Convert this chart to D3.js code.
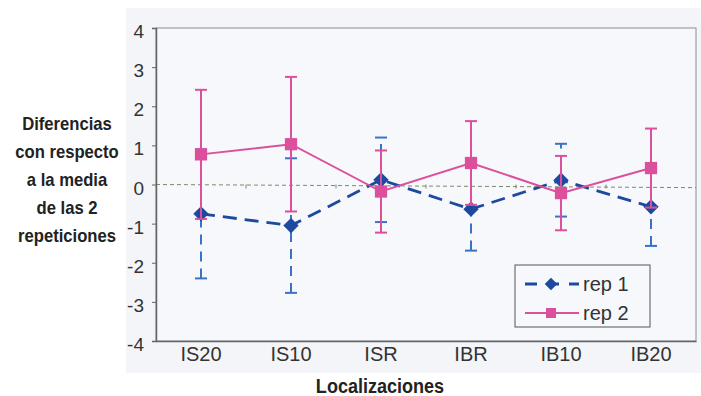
<!DOCTYPE html>
<html><head><meta charset="utf-8">
<script src="https://cdn.jsdelivr.net/npm/d3@7/dist/d3.min.js"></script>
<style>body{margin:0;background:#fff}svg{display:block}</style>
</head><body>
<svg id="c" width="701" height="396"></svg>
<script>
const categories = ["IS20","IS10","ISR","IBR","IB10","IB20"];
const rep1 = [-0.75,-1.05,0.12,-0.63,0.11,-0.57];
const rep1Err = [1.65,1.72,1.08,1.06,0.93,1.0];
const rep2 = [0.77,1.03,-0.18,0.55,-0.22,0.42];
const rep2Err = [1.65,1.72,1.05,1.07,0.95,1.01];
const yTicks = [-4,-3,-2,-1,0,1,2,3,4];
const seriesNames = ["rep 1","rep 2"];
const yTitle = ["Diferencias","con respecto","a la media","de las 2","repeticiones"];
const xTitle = "Localizaciones";

const svg = d3.select("#c");
const m = {l:156, t:28, r:696, b:341};
const x = d3.scaleBand().domain(categories).range([m.l, m.r]).padding(0);
const y = d3.scaleLinear().domain([-4,4]).range([m.b, m.t]);
const cx = c => x(c) + x.bandwidth()/2;

const blue = "#1d4a9e", blueErr = "#3a72c8", pink = "#dc4f9c", txt = "#333";
const font = "'Liberation Sans', Arial, sans-serif";

// chart area background
svg.append("rect").attr("x",126).attr("y",8).attr("width",575).attr("height",365).attr("fill","#f3f5f8");
svg.append("rect").attr("x",m.l).attr("y",m.t).attr("width",m.r-m.l).attr("height",m.b-m.t)
  .attr("fill","#f6f8fb").attr("stroke","#8a8f94").attr("stroke-width",1);

// zero reference line
svg.append("line").attr("x1",m.l).attr("x2",m.r).attr("y1",y(0)).attr("y2",y(-0.08))
  .attr("stroke","#7c8a6e").attr("stroke-width",1).attr("stroke-dasharray","4,3");
categories.slice(1).forEach(c=>{
  const xx = x(c);
  svg.append("line").attr("x1",xx).attr("x2",xx).attr("y1",y(0)).attr("y2",y(0)+4).attr("stroke","#7c8a6e").attr("stroke-width",1);
});

// axes
const ya = d3.axisLeft(y).tickValues(yTicks).tickSize(4).tickFormat(d => String(d));
const gy = svg.append("g").attr("transform",`translate(${m.l},0)`).call(ya);
gy.select(".domain").attr("stroke","#666").attr("stroke-width",1.5);
gy.selectAll(".tick line").attr("stroke","#666");
gy.selectAll(".tick text").attr("font-family",font).attr("font-size",19).attr("fill",txt).attr("x",-12).attr("dy","0.5em");

const xa = d3.axisBottom(x).tickSize(0).tickSizeOuter(0);
const gx = svg.append("g").attr("transform",`translate(0,${m.b})`).call(xa);
gx.select(".domain").attr("stroke","#666").attr("stroke-width",1.5);
gx.selectAll(".tick text").attr("font-family",font).attr("font-size",20).attr("fill",txt).attr("dy","0.85em");

function drawSeries(vals, errs, color, errColor, dash, errDash, marker){
  const g = svg.append("g");
  vals.forEach((v,i)=>{
    const xx = cx(categories[i]);
    g.append("line").attr("x1",xx).attr("x2",xx).attr("y1",y(v-errs[i])).attr("y2",y(v+errs[i]))
      .attr("stroke",errColor).attr("stroke-width",2).attr("stroke-dasharray",errDash);
    [v-errs[i], v+errs[i]].forEach(e=>{
      g.append("line").attr("x1",xx-6).attr("x2",xx+6).attr("y1",y(e)).attr("y2",y(e))
        .attr("stroke",errColor).attr("stroke-width",2);
    });
  });
  const line = d3.line().x((d,i)=>cx(categories[i])).y(d=>y(d));
  g.append("path").datum(vals).attr("d",line).attr("fill","none").attr("stroke",color)
    .attr("stroke-width",dash?2.8:2).attr("stroke-dasharray",dash);
  vals.forEach((v,i)=>{
    g.append("path").attr("transform",`translate(${cx(categories[i])},${y(v)})`)
      .attr("d",marker).attr("fill",color);
  });
}
const diamond = d3.symbol().type(d3.symbolDiamond2).size(150)();
const square = d3.symbol().type(d3.symbolSquare).size(150)();
drawSeries(rep1, rep1Err, blue, blueErr, "14,8", "10,7", diamond);
drawSeries(rep2, rep2Err, pink, pink, null, null, square);

// legend
const lg = svg.append("g");
lg.append("rect").attr("x",515).attr("y",265).attr("width",135).attr("height",62)
  .attr("fill","#f6f8fb").attr("stroke","#555").attr("stroke-width",1);
[[blue,"12,10",diamond],[pink,null,square]].forEach((s,i)=>{
  const yy = 284 + i*29;
  lg.append("line").attr("x1",525).attr("x2",579).attr("y1",yy).attr("y2",yy)
    .attr("stroke",s[0]).attr("stroke-width",s[1]?2.8:2).attr("stroke-dasharray",s[1]);
  lg.append("path").attr("transform",`translate(551,${yy})`).attr("d",d3.symbol().type(i?d3.symbolSquare:d3.symbolDiamond2).size(100)()).attr("fill",s[0]);
  lg.append("text").attr("x",583).attr("y",yy).attr("dy","0.37em").attr("font-family",font)
    .attr("font-size",20).attr("fill",txt).text(seriesNames[i]);
});

// titles
svg.append("text").attr("transform","translate(380,393) scale(0.88,1)").attr("text-anchor","middle").attr("font-family",font)
  .attr("font-weight","bold").attr("font-size",20.5).attr("fill","#222").text(xTitle);
yTitle.forEach((t,i)=>{
  svg.append("text").attr("transform",`translate(67,${130+i*28})` + " scale(0.9,1)").attr("text-anchor","middle").attr("font-family",font)
    .attr("font-weight","bold").attr("font-size",18.5).attr("fill","#222").text(t);
});
</script>
</body></html>
